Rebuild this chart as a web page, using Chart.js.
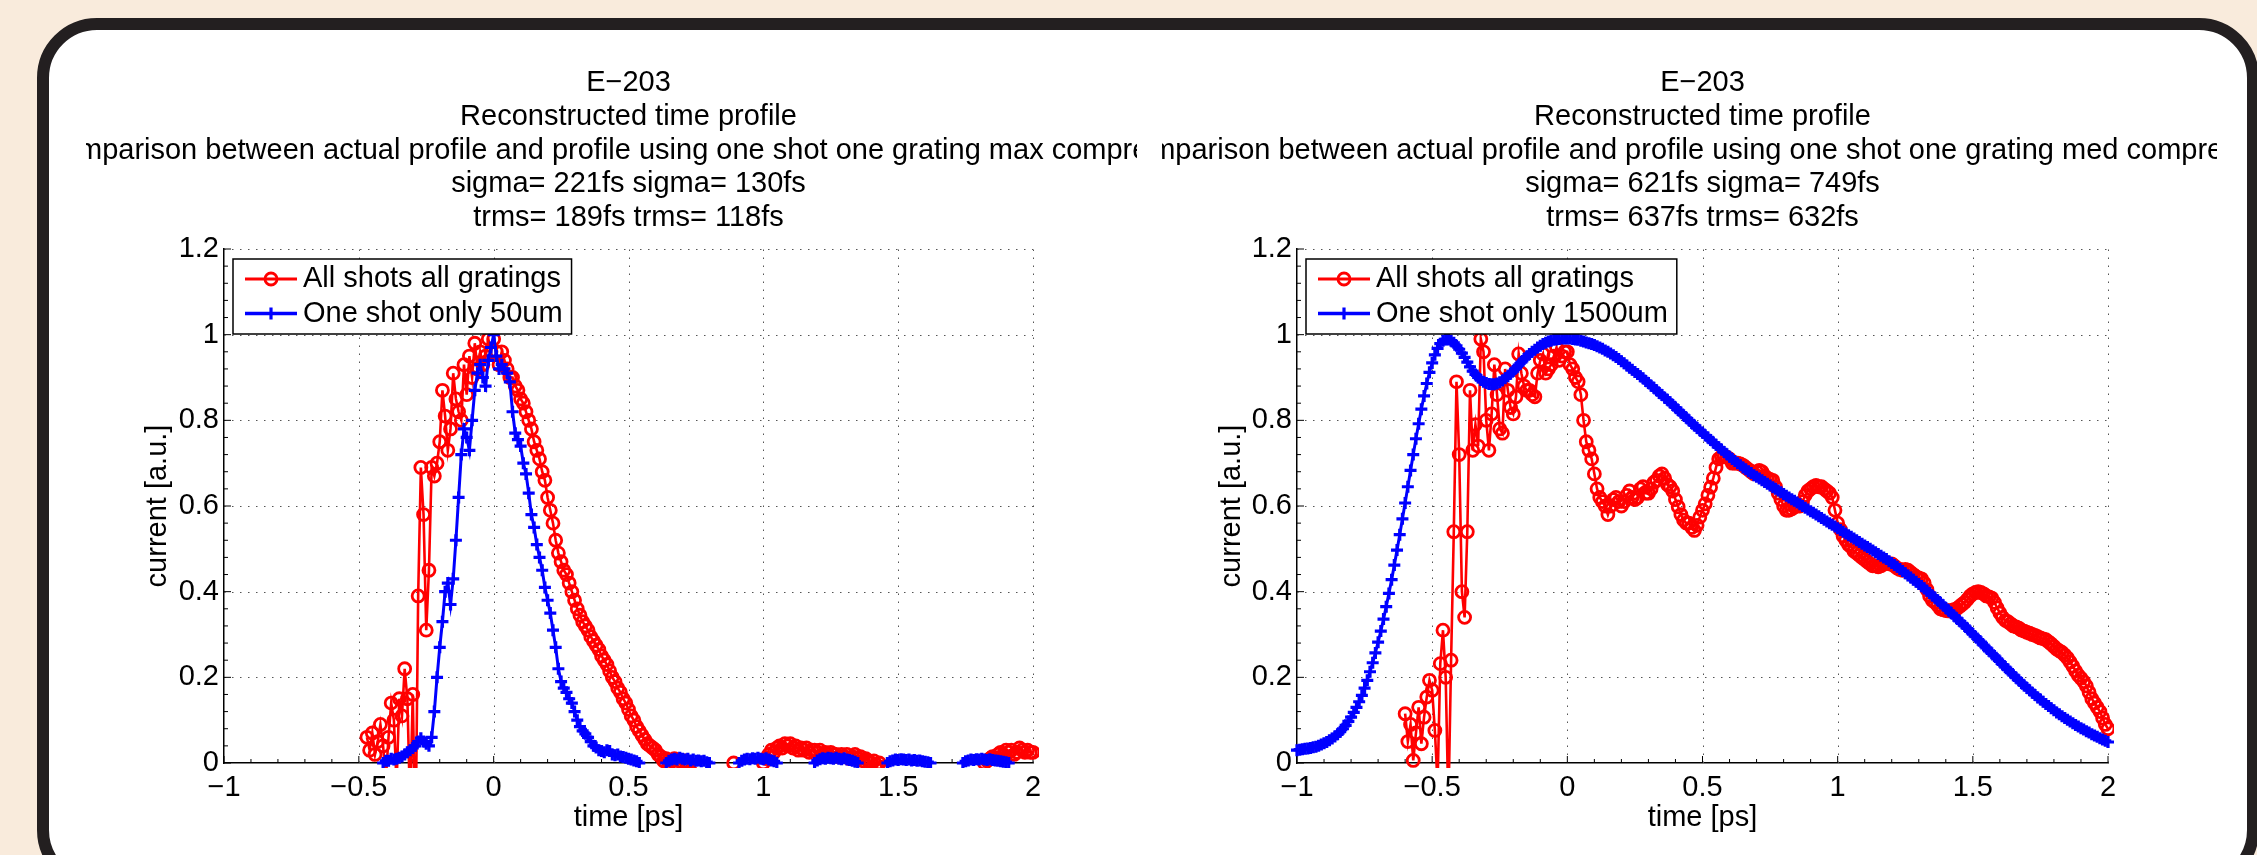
<!DOCTYPE html>
<html>
<head>
<meta charset="utf-8">
<script src="https://cdn.jsdelivr.net/npm/chart.js@4.4.1/dist/chart.umd.min.js"></script>
<style>
  html, body { margin: 0; padding: 0; }
  body {
    width: 2257px; height: 855px; overflow: hidden; position: relative;
    background: #f9ebdc;
  }
  #frame {
    position: absolute; left: 37px; top: 18px; width: 2222px; height: 872px;
    box-sizing: border-box; border: 12px solid #231f20; border-radius: 60px;
    background: #fff;
  }
  canvas { position: absolute; top: 40px; }
  #left-chart { left: 86px; }
  #right-chart { left: 1162px; }
</style>
</head>
<body>
<div id="frame"></div>
<canvas id="left-chart" width="1051" height="815"></canvas>
<canvas id="right-chart" width="1055" height="815"></canvas>
<script>
// Sampling step of all profiles [ps]
const SAMPLE_STEP = 0.01;

// Axis ticks
const xTicks = [-1, -0.5, 0, 0.5, 1, 1.5, 2];
const yTicks = [0, 0.2, 0.4, 0.6, 0.8, 1, 1.2];

// ---- max compression (left) ----
const leftTitles = [
  'E\u2212203',
  'Reconstructed time profile',
  'Comparison between actual profile and profile using one shot one grating max compression',
  'sigma= 221fs sigma= 130fs',
  'trms= 189fs trms= 118fs'
];

// all shots all gratings: segment start times and values
const maxAllStarts = [-0.47, 0.89, 1.00, 1.82];
const maxAllValues = [
  [0.06, 0.03, 0.07, 0.02, 0.05, 0.09, 0.04, -0.04, 0.06, 0.14,
   0.10, -0.05, 0.15, 0.11, 0.22, 0.15, -0.10, 0.16, -0.20, 0.39,
   0.69, 0.58, 0.31, 0.45, 0.69, 0.67, 0.70, 0.75, 0.87, 0.81,
   0.73, 0.78, 0.91, 0.85, 0.82, 0.80, 0.93, 0.86, 0.95, 0.90,
   0.98, 0.92, 0.96, 0.93, 0.95, 0.99, 0.96, 0.99, 0.96, 0.93,
   0.96, 0.94, 0.92, 0.90, 0.90, 0.88, 0.87, 0.85, 0.84, 0.82,
   0.80, 0.78, 0.75, 0.73, 0.71, 0.68, 0.66, 0.62, 0.59, 0.56,
   0.52, 0.49, 0.47, 0.45, 0.44, 0.42, 0.40, 0.38, 0.36, 0.345,
   0.33, 0.32, 0.31, 0.295, 0.285, 0.275, 0.265, 0.25, 0.24, 0.23,
   0.215, 0.20, 0.19, 0.175, 0.165, 0.15, 0.14, 0.125, 0.11, 0.10,
   0.085, 0.075, 0.065, 0.055, 0.045, 0.04, 0.035, 0.03, 0.02, 0.015,
   0.005, 0.01, 0.0, 0.005, 0.01, 0.0, 0.005, 0.0, 0.005, 0.0, -0.02],
  [0.0],
  [0.0, 0.01, 0.02, 0.03, 0.025, 0.035, 0.04, 0.035, 0.045, 0.04,
   0.045, 0.035, 0.04, 0.03, 0.035, 0.03, 0.035, 0.025, 0.03, 0.03,
   0.025, 0.03, 0.02, 0.025, 0.02, 0.025, 0.02, 0.02, 0.015, 0.02,
   0.015, 0.02, 0.01, 0.015, 0.02, 0.01, 0.015, 0.005, 0.01, 0.005,
   0.0, 0.005, -0.005, 0.0, -0.01],
  [0.0, 0.005, 0.01, 0.015, 0.01, 0.02, 0.025, 0.02, 0.03, 0.025,
   0.03, 0.02, 0.025, 0.035, 0.03, 0.025, 0.03, 0.025, 0.025]
];

// one shot only 50um
const maxOneStarts = [-0.41, 0.64, 0.91, 1.19, 1.46, 1.74];
const maxOneValues = [
  [0.0, 0.005, 0.005, 0.01, 0.008, 0.01, 0.012, 0.015, 0.02, 0.025,
   0.03, 0.035, 0.04, 0.05, 0.058, 0.05, 0.045, 0.04, 0.06, 0.12,
   0.20, 0.27, 0.33, 0.40, 0.42, 0.37, 0.43, 0.52, 0.62, 0.72,
   0.78, 0.76, 0.73, 0.80, 0.87, 0.91, 0.93, 0.90, 0.88, 0.94,
   0.97, 1.0, 0.95, 0.92, 0.93, 0.92, 0.91, 0.89, 0.82, 0.77,
   0.755, 0.74, 0.70, 0.675, 0.63, 0.58, 0.55, 0.51, 0.48, 0.45,
   0.41, 0.38, 0.35, 0.31, 0.27, 0.22, 0.19, 0.175, 0.165, 0.15,
   0.14, 0.12, 0.10, 0.085, 0.075, 0.068, 0.06, 0.05, 0.04, 0.036,
   0.03, 0.028, 0.025, 0.03, 0.028, 0.02, 0.018, 0.02, 0.015, 0.014,
   0.012, 0.01, 0.008, 0.006, 0.004, 0.0],
  [0.0, 0.005, 0.008, 0.01, 0.008, 0.012, 0.01, 0.008, 0.01, 0.006,
   0.008, 0.005, 0.006, 0.004, 0.005, 0.002, 0.0],
  [0.0, 0.005, 0.008, 0.01, 0.009, 0.011, 0.01, 0.012, 0.01, 0.009,
   0.011, 0.008, 0.006, 0.004, 0.0],
  [0.0, 0.006, 0.009, 0.011, 0.01, 0.012, 0.011, 0.01, 0.012, 0.01,
   0.009, 0.011, 0.008, 0.007, 0.005, 0.003, 0.0],
  [0.0, 0.004, 0.006, 0.008, 0.007, 0.009, 0.008, 0.007, 0.008, 0.006,
   0.007, 0.005, 0.006, 0.004, 0.003, 0.002, 0.0],
  [0.0, 0.004, 0.006, 0.008, 0.007, 0.009, 0.008, 0.01, 0.008, 0.007,
   0.009, 0.007, 0.006, 0.005, 0.004, 0.003, 0.002, 0.0]
];

// ---- med compression (right) ----
const rightTitles = [
  'E\u2212203',
  'Reconstructed time profile',
  'Comparison between actual profile and profile using one shot one grating med compression',
  'sigma= 621fs sigma= 749fs',
  'trms= 637fs trms= 632fs'
];

const medAllStarts = [-0.60];
const medAllValues = [
  [0.115, 0.05, 0.09, 0.006, 0.07, 0.13, 0.045, 0.107, 0.154, 0.193,
   0.17, 0.076, -0.05, 0.232, 0.31, 0.20, -0.10, 0.24, 0.54, 0.89,
   0.72, 0.40, 0.34, 0.54, 0.87, 0.73, 0.79, 0.74, 0.99, 0.96,
   0.80, 0.73, 0.815, 0.93, 0.86, 0.78, 0.77, 0.92, 0.87, 0.83,
   0.815, 0.855, 0.955, 0.91, 0.88, 0.87, 0.87, 0.86, 0.855, 0.91,
   0.94, 0.955, 0.91, 0.92, 0.93, 0.95, 0.97, 0.94, 0.95, 0.96,
   0.96, 0.93, 0.92, 0.90, 0.89, 0.86, 0.80, 0.75, 0.73, 0.71,
   0.675, 0.64, 0.62, 0.61, 0.60, 0.58, 0.60, 0.615, 0.62, 0.61,
   0.60, 0.61, 0.625, 0.635, 0.62, 0.615, 0.62, 0.64, 0.645, 0.63,
   0.63, 0.64, 0.655, 0.66, 0.67, 0.675, 0.665, 0.65, 0.645, 0.635,
   0.615, 0.598, 0.58, 0.567, 0.56, 0.56, 0.55, 0.543, 0.555, 0.574,
   0.59, 0.605, 0.625, 0.644, 0.665, 0.69, 0.71, 0.715, 0.716, 0.714,
   0.71, 0.70, 0.70, 0.70, 0.698, 0.695, 0.69, 0.685, 0.68, 0.675,
   0.68, 0.683, 0.68, 0.67, 0.665, 0.662, 0.66, 0.645, 0.63, 0.615,
   0.60, 0.59, 0.59, 0.593, 0.598, 0.60, 0.60, 0.61, 0.625, 0.635,
   0.64, 0.645, 0.648, 0.645, 0.645, 0.64, 0.635, 0.63, 0.62, 0.59,
   0.56, 0.545, 0.53, 0.52, 0.51, 0.505, 0.495, 0.49, 0.485, 0.48,
   0.475, 0.47, 0.465, 0.46, 0.46, 0.458, 0.46, 0.465, 0.468, 0.465,
   0.465, 0.46, 0.455, 0.452, 0.45, 0.452, 0.45, 0.445, 0.44, 0.435,
   0.432, 0.43, 0.42, 0.405, 0.39, 0.38, 0.375, 0.368, 0.36, 0.358,
   0.356, 0.355, 0.356, 0.358, 0.36, 0.365, 0.37, 0.375, 0.382, 0.39,
   0.395, 0.398, 0.40, 0.398, 0.395, 0.39, 0.388, 0.385, 0.375, 0.362,
   0.35, 0.34, 0.333, 0.33, 0.325, 0.32, 0.318, 0.315, 0.31, 0.308,
   0.305, 0.303, 0.30, 0.298, 0.295, 0.292, 0.29, 0.288, 0.283, 0.278,
   0.272, 0.266, 0.262, 0.258, 0.252, 0.245, 0.236, 0.226, 0.215, 0.205,
   0.198, 0.19, 0.18, 0.165, 0.15, 0.14, 0.13, 0.12, 0.105, 0.09, 0.08]
];

const medOneStarts = [-1.00];
const medOneValues = [
  [0.030, 0.031, 0.032, 0.033, 0.034, 0.035, 0.037, 0.038, 0.040, 0.043,
   0.046, 0.049, 0.053, 0.057, 0.062, 0.067, 0.073, 0.080, 0.088, 0.097,
   0.107, 0.118, 0.130, 0.143, 0.158, 0.175, 0.193, 0.213, 0.234, 0.257,
   0.282, 0.308, 0.336, 0.365, 0.396, 0.428, 0.462, 0.497, 0.533, 0.570,
   0.607, 0.645, 0.683, 0.720, 0.757, 0.792, 0.826, 0.857, 0.886, 0.912,
   0.934, 0.953, 0.968, 0.979, 0.986, 0.989, 0.989, 0.986, 0.981, 0.974,
   0.966, 0.957, 0.947, 0.936, 0.925, 0.915, 0.907, 0.900, 0.894, 0.890,
   0.887, 0.885, 0.884, 0.884, 0.886, 0.889, 0.893, 0.898, 0.903, 0.909,
   0.915, 0.922, 0.929, 0.936, 0.943, 0.949, 0.955, 0.960, 0.965, 0.970,
   0.974, 0.978, 0.981, 0.984, 0.986, 0.988, 0.989, 0.990, 0.991, 0.991,
   0.991, 0.991, 0.990, 0.989, 0.988, 0.986, 0.984, 0.982, 0.980, 0.978,
   0.976, 0.973, 0.970, 0.967, 0.963, 0.960, 0.956, 0.952, 0.948, 0.943,
   0.938, 0.933, 0.928, 0.923, 0.918, 0.913, 0.908, 0.903, 0.898, 0.892,
   0.887, 0.881, 0.876, 0.870, 0.864, 0.859, 0.853, 0.848, 0.842, 0.836,
   0.830, 0.824, 0.818, 0.812, 0.806, 0.800, 0.794, 0.788, 0.782, 0.777,
   0.771, 0.765, 0.760, 0.754, 0.748, 0.743, 0.737, 0.732, 0.726, 0.721,
   0.715, 0.710, 0.705, 0.700, 0.695, 0.690, 0.686, 0.681, 0.677, 0.672,
   0.668, 0.664, 0.660, 0.656, 0.652, 0.648, 0.644, 0.640, 0.636, 0.632,
   0.628, 0.624, 0.620, 0.616, 0.612, 0.608, 0.604, 0.600, 0.596, 0.592,
   0.588, 0.584, 0.580, 0.576, 0.572, 0.568, 0.564, 0.560, 0.556, 0.552,
   0.548, 0.544, 0.540, 0.536, 0.532, 0.528, 0.524, 0.520, 0.516, 0.512,
   0.508, 0.504, 0.500, 0.496, 0.492, 0.488, 0.484, 0.480, 0.476, 0.471,
   0.467, 0.462, 0.458, 0.453, 0.448, 0.443, 0.438, 0.433, 0.428, 0.423,
   0.418, 0.413, 0.408, 0.402, 0.397, 0.391, 0.386, 0.380, 0.374, 0.368,
   0.362, 0.356, 0.350, 0.344, 0.338, 0.332, 0.326, 0.320, 0.314, 0.307,
   0.301, 0.295, 0.288, 0.282, 0.275, 0.269, 0.262, 0.256, 0.250, 0.243,
   0.237, 0.230, 0.224, 0.218, 0.211, 0.205, 0.199, 0.193, 0.187, 0.181,
   0.175, 0.170, 0.164, 0.159, 0.153, 0.148, 0.143, 0.138, 0.133, 0.128,
   0.123, 0.118, 0.114, 0.109, 0.105, 0.101, 0.097, 0.093, 0.089, 0.085,
   0.081, 0.078, 0.074, 0.071, 0.067, 0.064, 0.061, 0.058, 0.055, 0.052, 0.049]
];

const FONT = "'Liberation Sans', Arial, Helvetica, sans-serif";
const TEXT_SIZE = 29;
Chart.defaults.font.family = FONT;
Chart.defaults.color = '#000';

// turn segments into {x, y} points, with a null point between segments
function toPoints(starts, segments) {
  const pts = [];
  segments.forEach((vals, k) => {
    vals.forEach((v, i) => pts.push({ x: starts[k] + i * SAMPLE_STEP, y: v }));
    pts.push({ x: starts[k] + vals.length * SAMPLE_STEP, y: null });
  });
  return pts;
}

function fmtTick(v) {
  return String(Math.round(v * 10) / 10).replace('-', '\u2212');
}

// stacked titles over the axes, like a matlab figure
const stackedTitle = {
  id: 'stackedTitle',
  afterDraw(chart, args, opts) {
    const { ctx, chartArea } = chart;
    const cx = (chartArea.left + chartArea.right) / 2;
    ctx.save();
    ctx.font = opts.font;
    ctx.fillStyle = '#000';
    ctx.textAlign = 'center';
    ctx.textBaseline = 'middle';
    const n = opts.lines.length;
    opts.lines.forEach((line, i) => {
      ctx.fillText(line, cx, chartArea.top - opts.bottomGap - (n - 1 - i) * opts.lineGap);
    });
    ctx.restore();
  }
};

// dotted grid and inward major/minor tick marks
const matlabAxes = {
  id: 'matlabAxes',
  beforeDatasetsDraw(chart) {
    const { ctx, chartArea: a, scales: { x, y } } = chart;
    const seg = (x1, y1, x2, y2) => { ctx.beginPath(); ctx.moveTo(x1, y1); ctx.lineTo(x2, y2); ctx.stroke(); };
    ctx.save();
    ctx.strokeStyle = '#555';
    ctx.lineWidth = 1;
    ctx.setLineDash([1.5, 6.5]);
    x.ticks.forEach(t => {
      if (t.value === x.min) return;
      const px = Math.round(x.getPixelForValue(t.value)) + 0.5;
      seg(px, a.bottom, px, a.top);
    });
    y.ticks.forEach(t => {
      if (t.value === y.min) return;
      const py = Math.round(y.getPixelForValue(t.value)) + 0.5;
      seg(a.left, py, a.right, py);
    });
    ctx.setLineDash([]);
    ctx.strokeStyle = '#000';
    x.ticks.forEach((t, i) => {
      const px = x.getPixelForValue(t.value);
      seg(px, a.bottom, px, a.bottom - 7);
      const next = x.ticks[i + 1];
      if (!next) return;
      for (let k = 1; k < 5; k++) {
        const mx = x.getPixelForValue(t.value + (next.value - t.value) * k / 5);
        seg(mx, a.bottom, mx, a.bottom - 4);
      }
    });
    y.ticks.forEach((t, i) => {
      const py = y.getPixelForValue(t.value);
      seg(a.left, py, a.left + 7, py);
      const next = y.ticks[i + 1];
      if (!next) return;
      for (let k = 1; k < 5; k++) {
        const my = y.getPixelForValue(t.value + (next.value - t.value) * k / 5);
        seg(a.left, my, a.left + 4, my);
      }
    });
    ctx.restore();
  }
};

// boxed legend with line + marker samples
const boxLegend = {
  id: 'boxLegend',
  afterDatasetsDraw(chart, args, opts) {
    const { ctx, chartArea: a } = chart;
    const sets = chart.data.datasets;
    ctx.save();
    ctx.font = opts.font;
    const textW = Math.max(...sets.map(d => ctx.measureText(d.label).width));
    const x0 = a.left + 9, y0 = a.top + 10;
    const w = 70 + textW + 9, h = 75;
    ctx.fillStyle = '#fff';
    ctx.fillRect(x0, y0, w, h);
    ctx.strokeStyle = '#000';
    ctx.lineWidth = 1.5;
    ctx.strokeRect(x0, y0, w, h);
    sets.forEach((d, i) => {
      const cy = y0 + 20 + i * 34.5;
      ctx.strokeStyle = d.borderColor;
      ctx.lineWidth = d.borderWidth + 0.5;
      ctx.beginPath(); ctx.moveTo(x0 + 12, cy); ctx.lineTo(x0 + 64, cy); ctx.stroke();
      ctx.fillStyle = 'rgba(0,0,0,0)';
      ctx.lineWidth = d.pointBorderWidth;
      Chart.helpers.drawPoint(ctx, { pointStyle: d.pointStyle, radius: d.pointRadius, borderWidth: d.pointBorderWidth, rotation: 0 }, x0 + 38, cy);
      ctx.fillStyle = '#000';
      ctx.textAlign = 'left';
      ctx.textBaseline = 'middle';
      ctx.fillText(d.label, x0 + 70, cy);
    });
    ctx.restore();
  }
};

function buildChart(id, titles, allPoints, onePoints, oneLabel, pad, yTitlePad) {
  const clip = { left: 6, right: 6, top: 0, bottom: 5 };
  return new Chart(document.getElementById(id), {
    type: 'line',
    data: {
      datasets: [{
        label: 'All shots all gratings',
        data: allPoints,
        borderColor: '#ff0000',
        borderWidth: 2.6,
        pointStyle: 'circle',
        pointRadius: 6,
        pointBorderWidth: 2.8,
        pointBorderColor: '#ff0000',
        pointBackgroundColor: 'rgba(0,0,0,0)',
        spanGaps: false,
        order: 2,
        clip
      }, {
        label: oneLabel,
        data: onePoints,
        borderColor: '#0000ff',
        borderWidth: 3,
        pointStyle: 'cross',
        pointRadius: 6,
        pointBorderWidth: 3.2,
        pointBorderColor: '#0000ff',
        pointBackgroundColor: '#0000ff',
        spanGaps: false,
        order: 1,
        clip
      }]
    },
    options: {
      responsive: false,
      animation: false,
      devicePixelRatio: 1,
      events: [],
      parsing: false,
      layout: { padding: pad },
      elements: { line: { tension: 0 } },
      plugins: {
        legend: { display: false },
        tooltip: { enabled: false },
        stackedTitle: { lines: titles, font: TEXT_SIZE + 'px ' + FONT, lineGap: 33.75, bottomGap: 31 },
        boxLegend: { font: TEXT_SIZE + 'px ' + FONT }
      },
      scales: {
        x: {
          type: 'linear',
          min: -1, max: 2,
          afterBuildTicks: s => { s.ticks = xTicks.map(v => ({ value: v })); },
          afterFit: s => { s.height = 80; },
          grid: { display: false, drawTicks: false, tickLength: 0 },
          border: { display: true, color: '#000', width: 1.5 },
          ticks: { font: { size: TEXT_SIZE }, padding: 8, maxRotation: 0, autoSkip: false, callback: fmtTick },
          title: { display: true, text: 'time [ps]', font: { size: TEXT_SIZE }, padding: { top: 0, bottom: 8 } }
        },
        y: {
          type: 'linear',
          min: 0, max: 1.2,
          afterBuildTicks: s => { s.ticks = yTicks.map(v => ({ value: v })); },
          afterFit: s => { s.width = 100; },
          grid: { display: false, drawTicks: false, tickLength: 0 },
          border: { display: true, color: '#000', width: 1.5 },
          ticks: { font: { size: TEXT_SIZE }, padding: 5, autoSkip: false, callback: fmtTick },
          title: { display: true, text: 'current [a.u.]', font: { size: TEXT_SIZE }, padding: { top: yTitlePad, bottom: 0 } }
        }
      }
    },
    plugins: [stackedTitle, matlabAxes, boxLegend]
  });
}

buildChart('left-chart', leftTitles,
  toPoints(maxAllStarts, maxAllValues), toPoints(maxOneStarts, maxOneValues),
  'One shot only 50um', { left: 38, right: 104, top: 209, bottom: 12 }, 17);

buildChart('right-chart', rightTitles,
  toPoints(medAllStarts, medAllValues), toPoints(medOneStarts, medOneValues),
  'One shot only 1500um', { left: 35, right: 109, top: 209, bottom: 12 }, 18);
</script>
</body>
</html>
